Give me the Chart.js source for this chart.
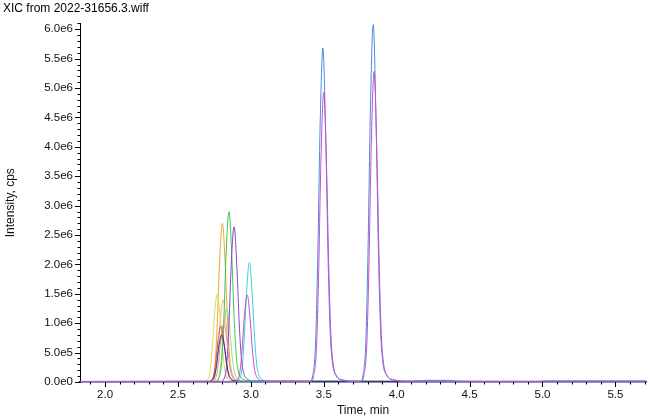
<!DOCTYPE html>
<html>
<head>
<meta charset="utf-8">
<script src="https://cdn.jsdelivr.net/npm/chart.js@4/dist/chart.umd.min.js"></script>
<style>
  html, body { margin: 0; padding: 0; background: #fff; }
  #wrap { width: 650px; height: 419px; position: relative; }
</style>
</head>
<body>
<div id="wrap"><canvas id="xicChart"></canvas></div>
<script>
// intensities below are in millions of cps, times in min
const CPS_UNIT = 1e6;

const xTickValues = [1.9, 2.0, 2.1, 2.2, 2.3, 2.4, 2.5, 2.6, 2.7, 2.8, 2.9, 3.0, 3.1, 3.2, 3.3, 3.4, 3.5, 3.6, 3.7, 3.8, 3.9,
  4.0, 4.1, 4.2, 4.3, 4.4, 4.5, 4.6, 4.7, 4.8, 4.9, 5.0, 5.1, 5.2, 5.3, 5.4, 5.5, 5.6, 5.7];

const magentaTrace = [[1.83, 0.008], [2.5, 0.01], [2.885, 0.01], [2.905, 0.03], [2.925, 0.18], [2.94, 0.56], [2.955, 1.11],
  [2.975, 1.48], [2.995, 1.07], [3.01, 0.56], [3.025, 0.22], [3.04, 0.09], [3.065, 0.03], [3.115, 0.01],
  [3.41, 0.01], [3.43, 0.10], [3.45, 0.59], [3.465, 1.88], [3.48, 3.71], [3.50, 4.93], [3.52, 3.56], [3.535, 1.88],
  [3.55, 0.74], [3.565, 0.30], [3.59, 0.10], [3.64, 0.03], [3.70, 0.012],
  [3.755, 0.012], [3.775, 0.11], [3.795, 0.63], [3.81, 2.01], [3.825, 3.96], [3.845, 5.28], [3.865, 3.80], [3.88, 2.01],
  [3.895, 0.79], [3.91, 0.32], [3.935, 0.11], [3.985, 0.03], [4.10, 0.01], [4.99, 0.01], [5.0, 0.02], [5.71, 0.02]];

const blueTrace = [[1.83, 0.008], [3.404, 0.01], [3.424, 0.11], [3.444, 0.68], [3.459, 2.16], [3.474, 4.26], [3.494, 5.68],
  [3.514, 4.09], [3.529, 2.16], [3.544, 0.85], [3.559, 0.34], [3.584, 0.11], [3.634, 0.03], [3.70, 0.012],
  [3.749, 0.012], [3.769, 0.12], [3.789, 0.73], [3.804, 2.31], [3.819, 4.56], [3.839, 6.08], [3.859, 4.38], [3.874, 2.31],
  [3.889, 0.91], [3.904, 0.36], [3.929, 0.12], [3.979, 0.04], [4.05, 0.015], [4.3, 0.02], [4.5, 0.01], [5.71, 0.01]];

const cyanTrace = [[1.83, 0.008], [2.90, 0.01], [2.92, 0.04], [2.94, 0.24], [2.955, 0.77], [2.97, 1.52], [2.99, 2.03],
  [3.01, 1.46], [3.025, 0.77], [3.04, 0.30], [3.055, 0.12], [3.08, 0.04], [3.13, 0.01],
  [4.1, 0.01], [4.2, 0.03], [4.35, 0.03], [4.45, 0.01], [5.71, 0.008]];

const violetTrace = [[1.83, 0.008], [2.795, 0.01], [2.815, 0.05], [2.835, 0.32], [2.85, 1.00], [2.865, 1.98], [2.885, 2.64],
  [2.905, 1.90], [2.92, 1.00], [2.935, 0.40], [2.95, 0.16], [2.975, 0.05], [3.025, 0.01], [5.71, 0.008]];

const greenTrace = [[1.83, 0.008], [2.76, 0.01], [2.78, 0.06], [2.80, 0.35], [2.815, 1.10], [2.83, 2.18], [2.85, 2.90],
  [2.87, 2.09], [2.885, 1.10], [2.90, 0.44], [2.915, 0.17], [2.94, 0.06], [2.99, 0.02], [5.71, 0.008]];

const orangeTrace = [[1.83, 0.008], [2.715, 0.01], [2.735, 0.05], [2.755, 0.32], [2.77, 1.03], [2.785, 2.03], [2.805, 2.70],
  [2.825, 1.94], [2.84, 1.03], [2.855, 0.41], [2.87, 0.16], [2.895, 0.05], [2.945, 0.01], [5.71, 0.008]];

const yellowTrace = [[1.83, 0.008], [2.68, 0.01], [2.70, 0.03], [2.72, 0.18], [2.735, 0.57], [2.75, 1.13], [2.77, 1.50],
  [2.79, 1.08], [2.805, 0.57], [2.82, 0.23], [2.835, 0.09], [2.86, 0.03], [2.91, 0.01], [5.71, 0.008]];

const peachTrace = [[1.83, 0.008], [2.72, 0.01], [2.74, 0.03], [2.76, 0.17], [2.775, 0.53], [2.79, 1.05], [2.81, 1.40],
  [2.83, 1.01], [2.845, 0.53], [2.86, 0.21], [2.875, 0.08], [2.90, 0.03], [2.95, 0.01], [5.71, 0.008]];

const lightGreenTrace = [[1.83, 0.008], [2.745, 0.01], [2.765, 0.03], [2.785, 0.15], [2.80, 0.48], [2.815, 0.94], [2.835, 1.25],
  [2.855, 0.90], [2.87, 0.48], [2.885, 0.19], [2.90, 0.08], [2.925, 0.03], [2.975, 0.01], [5.71, 0.008]];

const pinkTrace = [[1.83, 0.008], [2.725, 0.01], [2.745, 0.02], [2.765, 0.12], [2.78, 0.38], [2.795, 0.75], [2.815, 1.00],
  [2.835, 0.72], [2.85, 0.38], [2.865, 0.15], [2.88, 0.06], [2.905, 0.02], [2.955, 0.01], [5.71, 0.008]];

const redTrace = [[1.83, 0.008], [2.705, 0.01], [2.725, 0.02], [2.745, 0.11], [2.76, 0.36], [2.775, 0.71], [2.795, 0.95],
  [2.815, 0.68], [2.83, 0.36], [2.845, 0.14], [2.86, 0.06], [2.885, 0.02], [2.935, 0.01], [5.71, 0.008]];

const navyTrace = [[1.83, 0.01], [2.71, 0.01], [2.73, 0.02], [2.75, 0.10], [2.765, 0.30], [2.78, 0.60], [2.80, 0.80],
  [2.82, 0.58], [2.835, 0.30], [2.85, 0.12], [2.865, 0.05], [2.89, 0.02], [2.94, 0.01], [5.71, 0.01]];

const traces = [
  { data: magentaTrace, color: '#c24fce' },
  { data: blueTrace, color: '#4a8bdc' },
  { data: navyTrace, color: '#2a2f9a' },
  { data: redTrace, color: '#e8504a' },
  { data: pinkTrace, color: '#f08aa8' },
  { data: violetTrace, color: '#8a44c8' },
  { data: greenTrace, color: '#3cc84a' },
  { data: lightGreenTrace, color: '#8ee08a' },
  { data: cyanTrace, color: '#3ccfd6' },
  { data: peachTrace, color: '#f4b870' },
  { data: yellowTrace, color: '#d8e050' },
  { data: orangeTrace, color: '#f0a23c' }
];

const FONT = 'Liberation Sans, Arial, sans-serif';

const tickMarks = {
  id: 'tickMarks',
  afterDraw(chart) {
    const ctx = chart.ctx;
    const area = chart.chartArea;
    const xs = chart.scales.x;
    const ys = chart.scales.y;
    ctx.save();
    ctx.strokeStyle = '#000';
    ctx.lineWidth = 1;
    ctx.beginPath();
    ys.ticks.forEach(t => {
      const py = Math.round(ys.getPixelForValue(t.value)) + 0.5;
      const len = t.label ? 5 : 2.5;
      ctx.moveTo(area.left - len, py);
      ctx.lineTo(area.left, py);
    });
    xs.ticks.forEach(t => {
      const px = Math.round(xs.getPixelForValue(t.value)) + 0.5;
      const len = t.label ? 5 : 2.5;
      ctx.moveTo(px, area.bottom);
      ctx.lineTo(px, area.bottom + len);
    });
    ctx.stroke();
    ctx.restore();
  }
};

const ctx = document.getElementById('xicChart').getContext('2d');
const myChart = new Chart(ctx, {
  type: 'line',
  data: {
    datasets: traces.map(tr => ({
      data: tr.data.map(p => ({ x: p[0], y: p[1] * CPS_UNIT })),
      borderColor: tr.color,
      borderWidth: 1,
      pointRadius: 0,
      fill: false,
      cubicInterpolationMode: 'monotone'
    }))
  },
  options: {
    responsive: true,
    maintainAspectRatio: false,
    animation: false,
    layout: { padding: { left: 3, right: 4, top: 0, bottom: 0 } },
    plugins: {
      legend: { display: false },
      tooltip: { enabled: false },
      title: {
        display: true,
        text: 'XIC from 2022-31656.3.wiff',
        align: 'start',
        color: '#000',
        font: { family: FONT, size: 12, weight: 'normal' },
        padding: { top: 1, bottom: 8 }
      }
    },
    scales: {
      x: {
        type: 'linear',
        min: 1.828,
        max: 5.71,
        afterBuildTicks: s => { s.ticks = xTickValues.map(v => ({ value: v })); },
        afterFit: s => { s.height = 37; },
        grid: { display: false, tickLength: 5 },
        border: { display: true, color: '#1c2466', width: 1.5 },
        ticks: {
          autoSkip: false,
          maxRotation: 0,
          padding: 1,
          color: '#111',
          font: { family: FONT, size: 11.5 },
          callback: v => (Math.abs(v * 2 - Math.round(v * 2)) < 1e-6 ? v.toFixed(1) : '')
        },
        title: {
          display: true,
          text: 'Time, min',
          color: '#111',
          font: { family: FONT, size: 12 },
          padding: { top: 0, bottom: 1 }
        }
      },
      y: {
        type: 'linear',
        min: 0,
        max: 6.1e6,
        afterBuildTicks: s => {
          const t = [];
          for (let i = 0; i <= 61; i++) t.push({ value: i * 1e5 });
          s.ticks = t;
        },
        afterFit: s => { s.width = 77; },
        grid: { display: false, tickLength: 5 },
        border: { display: true, color: '#000', width: 1 },
        ticks: {
          autoSkip: false,
          padding: 2,
          color: '#111',
          font: { family: FONT, size: 11.5 },
          callback: v => (Math.round(v / 1e5) % 5 === 0 ? v.toExponential(1).replace('e+', 'e') : '')
        },
        title: {
          display: true,
          text: 'Intensity, cps',
          color: '#111',
          font: { family: FONT, size: 12 },
          padding: { top: 0, bottom: 0 }
        }
      }
    }
  },
  plugins: [tickMarks]
});
</script>
</body>
</html>
